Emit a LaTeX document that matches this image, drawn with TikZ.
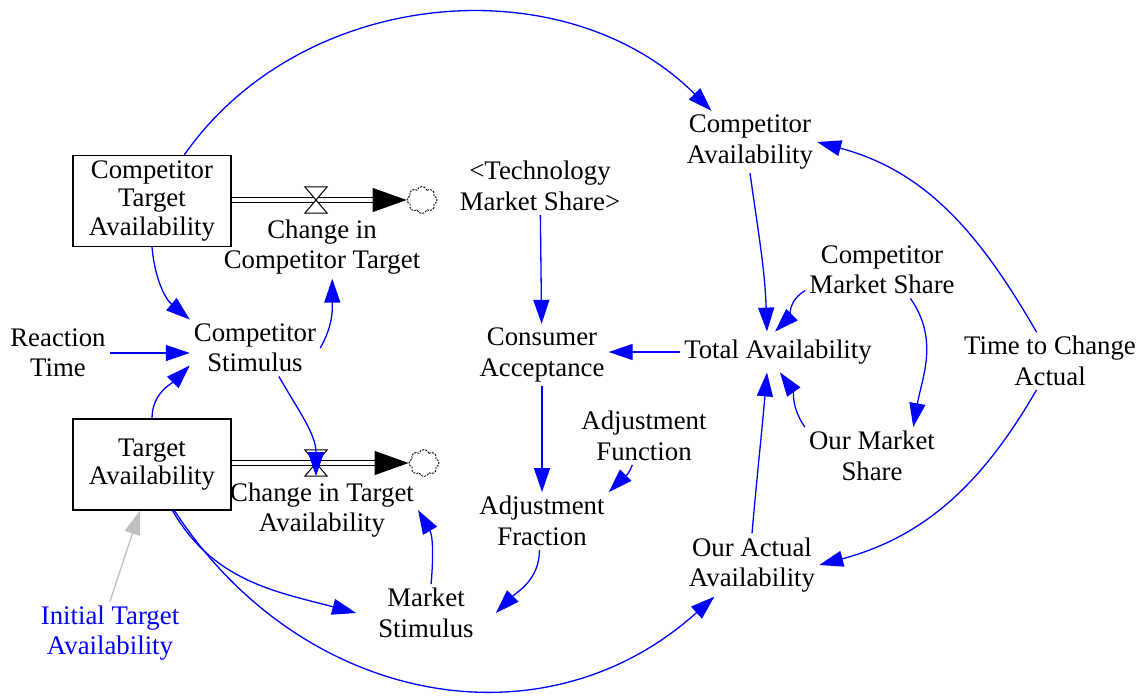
\documentclass[tikz,border=0pt]{standalone}
\usepackage{fontspec}
\setmainfont{Liberation Serif}
\usepackage{tikz}
\usetikzlibrary{arrows.meta,shapes.symbols}
\tikzset{
  % Base style
  sd base/.style={
    >={Triangle[length=24pt,width=16pt]},
    every node/.style={font=\fontsize{26.8}{30.5}\selectfont, align=center, inner sep=4pt},
  },
  % Stocks and flows
  stock/.style={rectangle, draw, line width=1.2pt, minimum width=158pt, minimum height=91pt, inner sep=0pt,
    font=\fontsize{26.8}{28.5}\selectfont},
  pipe/.style={draw=black, double=white, double distance=4.5pt, line width=1.1pt,
    -{Triangle[length=34pt,width=24pt]}},
  valve/.style={minimum width=22pt, minimum height=26pt, inner sep=0pt},
  sink/.style={cloud, draw, dash pattern=on 2pt off 1.2pt, line width=0.9pt, cloud puffs=8,
    minimum width=30pt, minimum height=27pt, inner sep=0pt},
  % Links
  link/.style={->, draw=blue, line width=1.3pt},
  init link/.style={->, draw=black!25, line width=1.3pt},
  shadow var/.style={text=blue},
}

\begin{document}
\begin{tikzpicture}[sd base, x=1pt, y=1pt]
  \useasboundingbox (0,0) rectangle (1142,-696);
  % stocks
  \node[stock] (CTA) at (152,-201) {Competitor\\Target\\Availability};
  \node[stock] (TA) at (152,-464.5) {Target\\Availability};
  % flows
  \node[sink] (CTAsink) at (422,-200) {};
  \node[sink] (TAsink) at (424,-463) {};
  \node[valve] (CCTv) at (316,-200) {};
  \node[valve] (CTAv) at (316,-463) {};
  \node (CCT) at (322,-247) {Change in\\Competitor Target};
  \node (CTAvl) at (322,-510) {Change in Target\\Availability};
  \draw[pipe] (CTA.east |- CCTv) -- (CTAsink.west);
  \draw[pipe] (TA.east |- CTAv) -- (TAsink.west);
  \foreach \v in {CCTv,CTAv}
    \draw[fill=white, line width=1pt] (\v.north west) -- (\v.north east) -- (\v.south west) -- (\v.south east) -- cycle;
  % variables
  \node (CA) at (750,-142) {Competitor\\Availability};
  \node (TMS) at (540,-186) {<Technology\\Market Share>};
  \node (CS) at (255,-348) {Competitor\\Stimulus};
  \node (RT) at (58,-353) {Reaction\\Time};
  \node (CAc) at (542,-355) {Consumer\\Acceptance};
  \node[inner ysep=8pt] (TotA) at (778,-352) {Total Availability};
  \node (CMS) at (882,-270) {Competitor\\Market Share};
  \node (TCA) at (1050,-361) {Time to Change\\Actual};
  \node (OMS) at (872,-456) {Our Market\\Share};
  \node (AFn) at (644,-436) {Adjustment\\Function};
  \node (AFr) at (542,-521) {Adjustment\\Fraction};
  \node (OAA) at (752,-565) {Our Actual\\Availability};
  \node[inner xsep=22pt] (MS) at (426,-613) {Market\\Stimulus};
  \node[shadow var] (ITA) at (110,-633) {Initial Target\\Availability};
  % links
  \draw[link] (CTA.55) to[out=55, in=135] (CA.141);
  \draw[link] (CTA.south) to[out=-85, in=140] (CS.north west);
  \draw[link] (RT.east) -- (RT.east -| CS.west);
  \draw[link] (TA.north) to[out=90, in=-135] (CS.195);
  \draw[link] (CS.east) to[out=60, in=-90] (CCT.-72);
  \draw[link] (CS.-50) to[out=-60, in=90] (CTAv.south);
  \draw[link] (TA.-66) to[out=-60, in=165] (MS.west);
  \draw[link] (TA.-64) to[out=-57, in=-138, looseness=1.08] (OAA.-140);
  \draw[link] (MS.80) to[out=85, in=-60] (CTAvl.east);
  \draw[link] (AFr.-95) to[out=-90, in=45] (MS.east);
  \draw[link] (AFn.-112) to[out=-110, in=45] (AFr.north east);
  \draw[link] (TMS) -- (CAc);
  \draw[link] (TotA.west) -- (TotA.west -| CAc.east);
  \draw[link] (CAc) -- (AFr);
  \draw[link] (CA.south) to[out=-82, in=92] ([xshift=-11pt]TotA.north);
  \draw[link] (CMS.195) to[out=-150, in=45] ([xshift=-3pt]TotA.north);
  \draw[link] (CMS.-45) to[out=-55, in=80] (OMS.35);
  \draw[link] (OMS.north west) to[out=125, in=-55] ([xshift=2pt]TotA.south);
  \draw[link] (OAA.north) to[out=85, in=-95] ([xshift=-11pt]TotA.south);
  \draw[link] (TCA.115) to[out=120, in=-15] (CA.east);
  \draw[link] (TCA.-115) to[out=-120, in=15] (OAA.east);
  \draw[init link] (ITA.north) -- ([xshift=-12pt]TA.south);
\end{tikzpicture}
\end{document}
